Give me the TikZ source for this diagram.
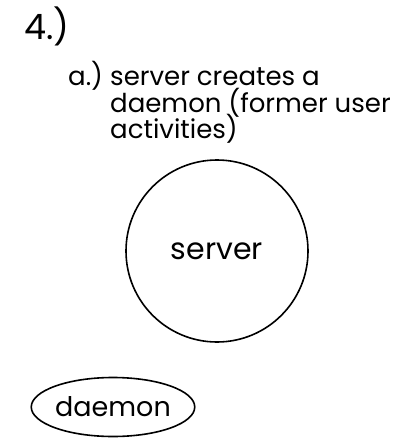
\documentclass[tikz,border=0pt]{standalone}
\usepackage{fontspec}
\setmainfont{Poppins}
\usetikzlibrary{shapes.geometric}
\tikzset{
  txt/.style={anchor=base west, inner sep=0pt, font=\fontsize{26}{28}\selectfont},
  outline/.style={draw=black, line width=1.6pt},
}
\begin{document}
\begin{tikzpicture}[x=1pt,y=-1pt]
\useasboundingbox[fill=white] (0,0) rectangle (408,439);
\node[anchor=base west, inner sep=0pt, font=\fontsize{35}{40}\selectfont] (num) at (24,39) {4.)};
\node[txt] (la) at (68,85) {a.)};
\node[txt] (l1) at (110,85) {server creates a};
\node[txt] (l2) at (110,112) {daemon (former user};
\node[txt] (l3) at (110,138) {activities)};
\node[outline, circle, minimum size=182pt, inner sep=0pt, font=\fontsize{30}{32}\selectfont] (server) at (217,251) {server};
\node[outline, ellipse, minimum width=139pt, minimum height=59pt, inner sep=0pt, font=\fontsize{27}{30}\selectfont] (daemon) at (113,407) {daemon};
\end{tikzpicture}
\end{document}
